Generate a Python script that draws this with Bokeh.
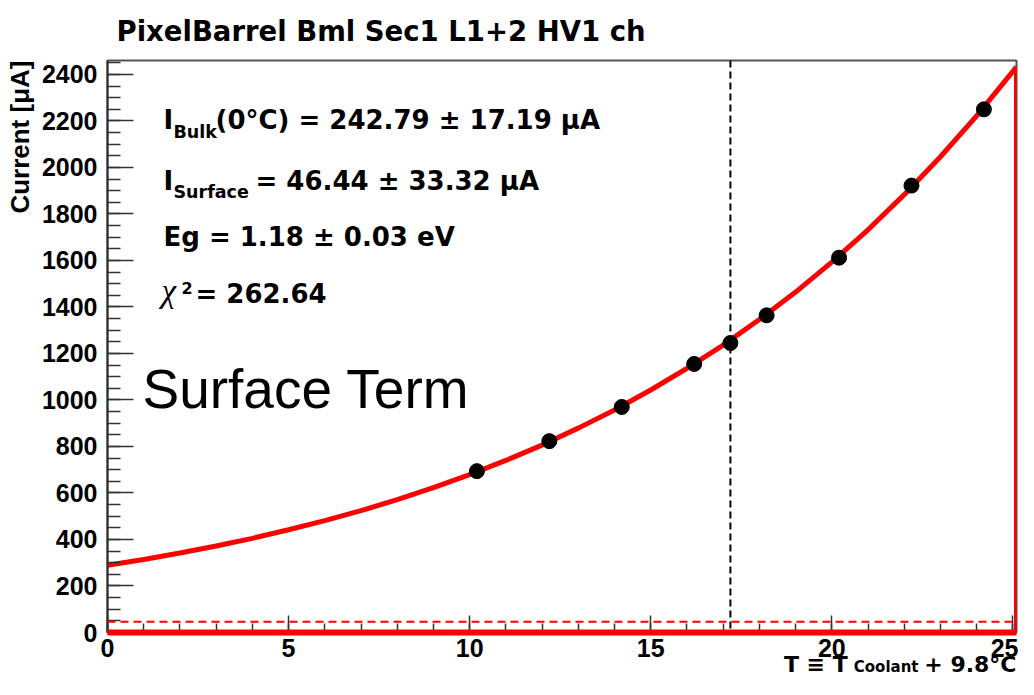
from bokeh.plotting import figure
from bokeh.models import Label, Span, SingleIntervalTicker, Range1d, Title
from bokeh.embed import file_html
from bokeh.resources import INLINE

# ---------------- data ----------------
# fitted leakage-current curve, T in degC, current in uA
fit_t = [0, 1, 2, 3, 4, 5, 6, 7, 8, 9, 10, 11, 12, 13, 14, 15, 16, 17, 18, 19,
         20, 21, 22, 23, 24, 25, 25.1]
fit_i = [289, 314, 342, 372, 405, 442, 481, 524, 571, 623, 679, 740, 806, 879,
         957, 1043, 1136, 1236, 1346, 1464, 1593, 1732, 1883, 2046, 2222, 2413, 2433]
# measured points
meas_t = [10.2, 12.2, 14.2, 16.2, 17.2, 18.2, 20.2, 22.2, 24.2]
meas_i = [694, 823, 970, 1155, 1245, 1364, 1612, 1922, 2250]
i_surface = 46.44        # surface term level (red dashed)
t_operating = 17.2       # vertical dashed marker

title_text = "PixelBarrel Bml Sec1 L1+2 HV1 ch"
y_title = "Current [\u03bcA]"
x_title_main = "T \u2261 T" + "\u00a0" * 10 + "+ 9.8\u00b0C"
x_title_sub = "Coolant"
stats = {
    "bulk": "(0\u00b0C) = 242.79 \u00b1 17.19 \u03bcA",
    "surface": "= 46.44 \u00b1 33.32 \u03bcA",
    "eg": "Eg = 1.18 \u00b1 0.03 eV",
    "chi2": "= 262.64",
}

X_END, Y_END = 25.1, 2460
FL, FT, FW, FH = 107, 60, 909, 572   # frame geometry in canvas px
W, H = 1018, 679


def at(px, py):
    """canvas pixel position -> data coordinates (for text placement)"""
    x = X_END * (px - FL) / FW
    y = Y_END * (FT + FH - py) / FH
    return x, y


p = figure(frame_width=FW, frame_height=FH,
           x_range=Range1d(0, X_END), y_range=Range1d(0, Y_END),
           output_backend="svg", toolbar_location=None,
           min_border_left=FL, min_border_right=W - FL - FW,
           min_border_top=FT, min_border_bottom=H - FT - FH)
p.grid.visible = False
p.background_fill_color = "white"
p.border_fill_color = "white"
p.outline_line_color = "#555555"
p.outline_line_width = 2

# title (ROOT style, left aligned)
p.title.text = title_text
p.title.align = "left"
p.title.offset = 9
p.title.vertical_align = "top"
p.title.standoff = 23
p.title.text_font = "DejaVu Sans"
p.title.text_font_size = "27.5px"
p.title.text_font_style = "bold"
p.title.text_color = "black"

# axes
p.xaxis.ticker = SingleIntervalTicker(interval=5, num_minor_ticks=5)
p.yaxis.ticker = SingleIntervalTicker(interval=200, num_minor_ticks=4)
for ax in (p.xaxis, p.yaxis):
    ax.major_tick_out = 0
    ax.minor_tick_out = 0
    ax.axis_line_color = "#333333"
    ax.axis_line_width = 2
    ax.major_tick_line_color = "#333333"
    ax.minor_tick_line_color = "#333333"
    ax.major_tick_line_width = 1.5
    ax.minor_tick_line_width = 1.5
    ax.major_label_text_font = "Liberation Sans"
    ax.major_label_text_font_style = "bold"
    ax.major_label_text_font_size = "25px"
    ax.major_label_text_color = "black"
p.xaxis.major_tick_in = 17
p.xaxis.minor_tick_in = 9
p.yaxis.major_tick_in = 26
p.yaxis.minor_tick_in = 13
p.xaxis.major_label_standoff = 6
p.yaxis.major_label_standoff = 10

# axis titles (ROOT style: at the top / right end of the axes)
p.add_layout(Title(text=y_title, align="right", vertical_align="top",
                   standoff=3, offset=0, text_font="Liberation Sans",
                   text_font_size="26px", text_font_style="bold",
                   text_color="black"), "left")
p.add_layout(Title(text=x_title_main, align="right", vertical_align="bottom",
                   standoff=-18.8, offset=0, text_font="DejaVu Sans",
                   text_font_size="22px", text_font_style="bold",
                   text_color="black"), "below")
p.add_layout(Title(text=x_title_sub, align="right", vertical_align="top",
                   standoff=-19, offset=98, text_font="DejaVu Sans",
                   text_font_size="15px", text_font_style="bold",
                   text_color="black"), "below")

# fit function outline
p.line(fit_t, fit_i, line_color="#ff0000", line_width=5)
p.segment(x0=[fit_t[-1]], y0=[0], x1=[fit_t[-1]], y1=[fit_i[-1]],
          line_color="#ff0000", line_width=5)
r_bot = p.segment(x0=[fit_t[0]], y0=[0], x1=[fit_t[-1]], y1=[0],
                  line_color="#ff0000", line_width=6)
r_bot.level = "overlay"

p.add_layout(Span(location=i_surface, dimension="width", line_color="#ff0000",
                  line_dash="8 5", line_width=2))
p.add_layout(Span(location=t_operating, dimension="height", line_color="black",
                  line_dash="7 4", line_width=2))

p.scatter(meas_t, meas_i, size=15, color="black")


def lab(text, px, baseline_py, font="DejaVu Sans", size=26, style="bold",
        align="left"):
    # anchor on the middle of the em box; baseline lies ~0.346 em below it
    x, y = at(px, baseline_py - 0.346 * size)
    p.add_layout(Label(x=x, y=y, text=text, text_font=font,
                       text_font_size=f"{size}px", text_font_style=style,
                       text_align=align, text_baseline="middle",
                       text_color="black"))


# fit results
lab("I", 163, 128)
lab("Bulk", 173, 138, size=17.5)
lab(stats["bulk"], 215, 128)
lab("I", 163, 189)
lab("Surface", 173, 198, size=17.5)
lab(stats["surface"], 255, 189)
lab(stats["eg"], 163, 245)
lab("\u03c7", 161, 302, font="Liberation Serif", size=33, style="italic")
lab("2", 181, 293, size=16)
lab(stats["chi2"], 195, 302)

lab("Surface Term", 142, 408, font="Liberation Sans", size=55, style="normal")

open("out.html", "w").write(file_html(p, INLINE))
